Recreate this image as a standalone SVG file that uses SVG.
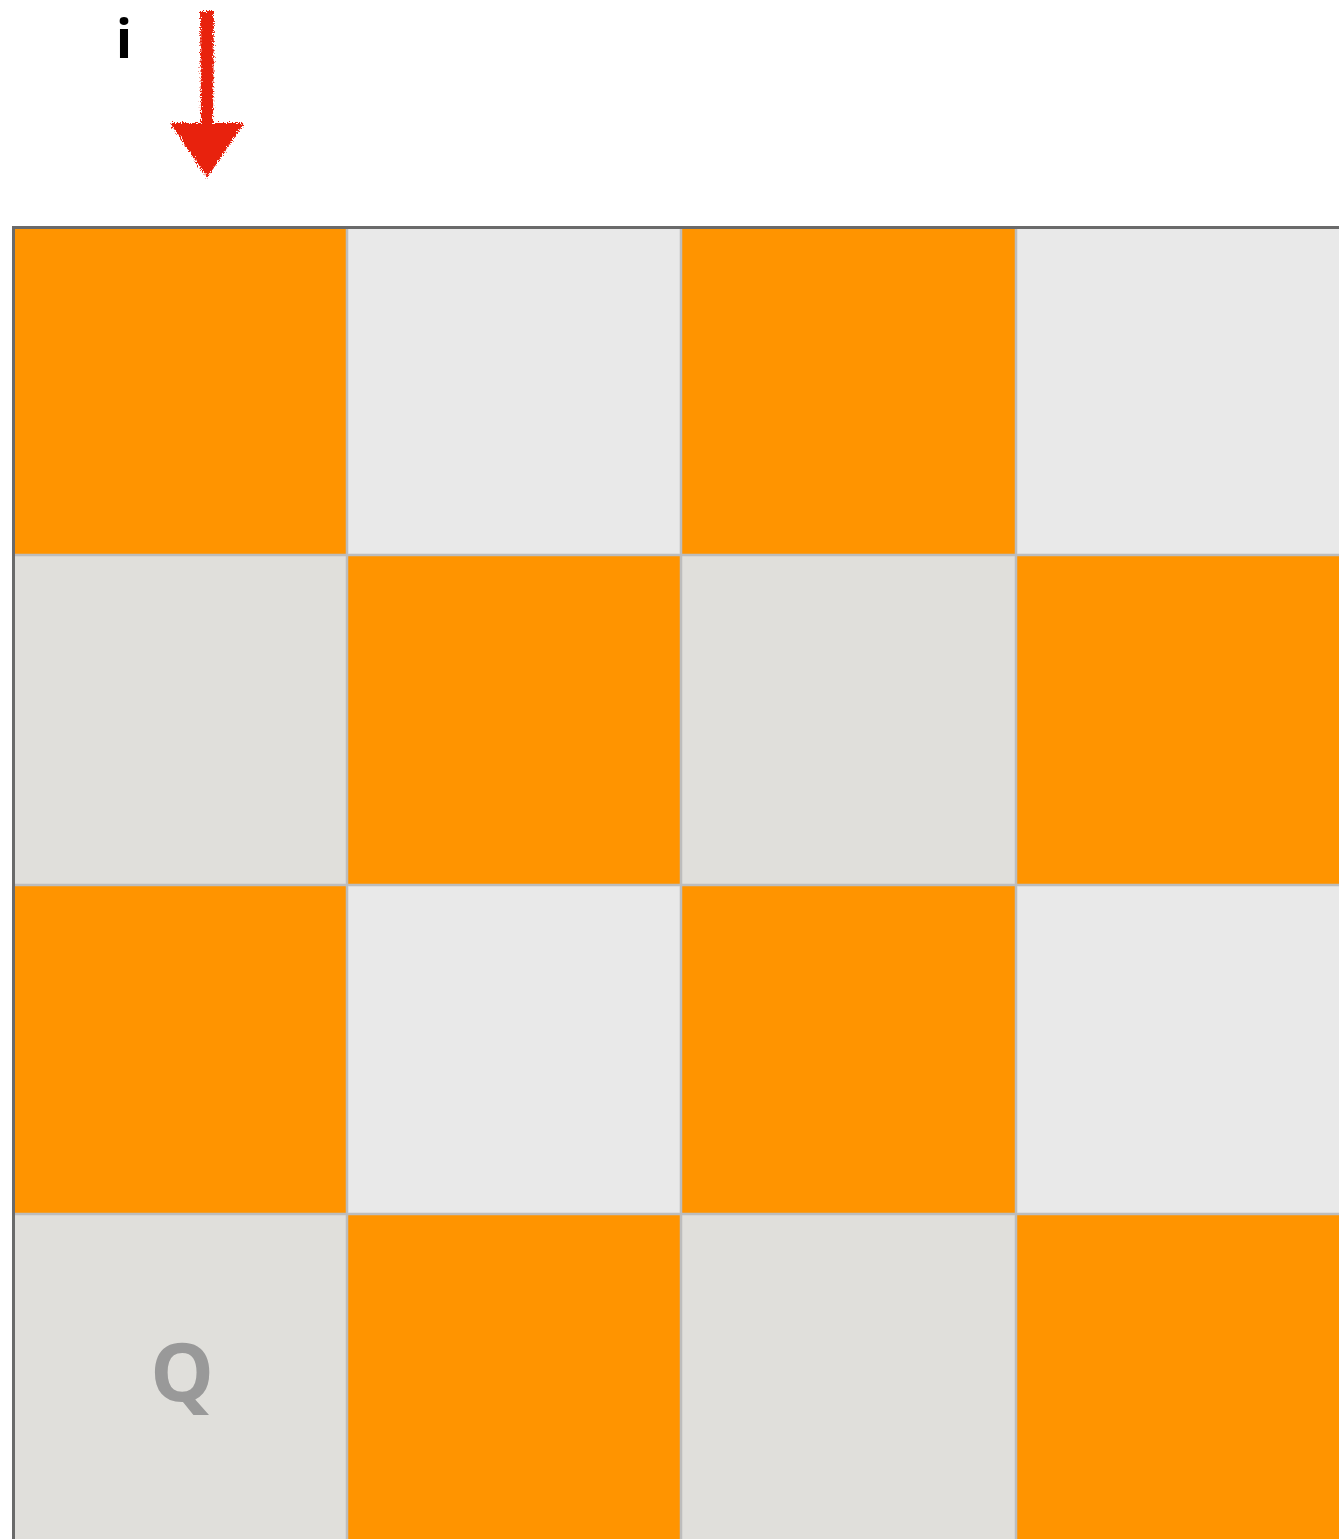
<svg xmlns="http://www.w3.org/2000/svg" width="1339" height="1539" viewBox="0 0 1339 1539">
<style>
.o{fill:#FF9400}
.l{fill:#E9E9E9}
.d{fill:#E0DFDB}
.grid{stroke:#BDBDBD;stroke-width:2.5;fill:none}
.border{stroke:#6A6A6A;stroke-width:3;fill:none}
.lbl{font-family:"Open Sans","Liberation Sans",sans-serif;font-weight:bold}
</style>
<defs>
<filter id="rough" x="-20%" y="-10%" width="140%" height="120%">
<feTurbulence type="fractalNoise" baseFrequency="0.8" numOctaves="2" seed="3" result="n"/>
<feDisplacementMap in="SourceGraphic" in2="n" scale="7" xChannelSelector="R" yChannelSelector="G"/>
</filter>
</defs>
<rect width="1339" height="1539" fill="#FFFFFF"/>
<g id="cells">
<rect class="o" x="13" y="227" width="334" height="328"/>
<rect class="l" x="347" y="227" width="334" height="328"/>
<rect class="o" x="681" y="227" width="335" height="328"/>
<rect class="l" x="1016" y="227" width="323" height="328"/>
<rect class="d" x="13" y="555" width="334" height="330"/>
<rect class="o" x="347" y="555" width="334" height="330"/>
<rect class="d" x="681" y="555" width="335" height="330"/>
<rect class="o" x="1016" y="555" width="323" height="330"/>
<rect class="o" x="13" y="885" width="334" height="329"/>
<rect class="l" x="347" y="885" width="334" height="329"/>
<rect class="o" x="681" y="885" width="335" height="329"/>
<rect class="l" x="1016" y="885" width="323" height="329"/>
<rect class="d" x="13" y="1214" width="334" height="325"/>
<rect class="o" x="347" y="1214" width="334" height="325"/>
<rect class="d" x="681" y="1214" width="335" height="325"/>
<rect class="o" x="1016" y="1214" width="323" height="325"/>
</g>
<g id="gridlines">
<path class="grid" d="M347 227V1539M681 227V1539M1016 227V1539M13 555H1339M13 885H1339M13 1214H1339"/>
<path class="border" d="M13.5 1539V227.5H1339"/>
</g>
<g id="queen">
<text class="lbl" x="182" y="1401" font-size="80" fill="#999999" text-anchor="middle">Q</text>
</g>
<g id="label-i">
<text class="lbl" x="124" y="58" font-size="54" fill="#000000" text-anchor="middle">i</text>
</g>
<g id="arrow" filter="url(#rough)" fill="#E8200F">
<path d="M200 11 L214 11 L213 124 L201 124 Z"/>
<path d="M170 123 L244 123 L207 178 Z"/>
</g>
</svg>
